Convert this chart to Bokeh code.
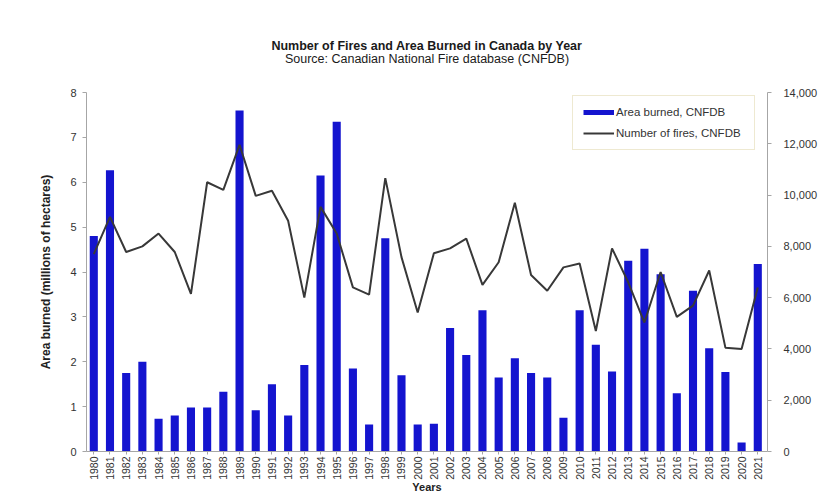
import math
from bokeh.plotting import figure
from bokeh.models import (Range1d, LinearAxis, FixedTicker, NumeralTickFormatter,
                          Legend, LegendItem, Title, ColumnDataSource)
from bokeh.embed import file_html
from bokeh.resources import INLINE

years = list(range(1980, 2022))
year_labels = [str(y) for y in years]
area_burned = [4.8, 6.27, 1.75, 2.0, 0.73, 0.8, 0.98, 0.98, 1.33, 7.6,
               0.92, 1.5, 0.8, 1.93, 6.15, 7.35, 1.85, 0.6, 4.75, 1.7,
               0.6, 0.62, 2.75, 2.15, 3.15, 1.65, 2.08, 1.75, 1.65, 0.75,
               3.15, 2.38, 1.78, 4.25, 4.52, 3.95, 1.3, 3.58, 2.3, 1.77,
               0.2, 4.18]
num_fires = [7700, 9150, 7780, 8000, 8500, 7780, 6150, 10500, 10200, 11960,
             9970, 10170, 9000, 6000, 9540, 8500, 6400, 6120, 10660, 7580,
             5420, 7730, 7920, 8300, 6500, 7380, 9700, 6880, 6270, 7180,
             7330, 4700, 7920, 6600, 5030, 7000, 5250, 5690, 7060, 4050,
             4000, 6400]
left_ticks = [0, 1, 2, 3, 4, 5, 6, 7, 8]
right_ticks = [0, 2000, 4000, 6000, 8000, 10000, 12000, 14000]

title_text = "Number of Fires and Area Burned in Canada by Year"
subtitle_text = "Source: Canadian National Fire database (CNFDB)"
bar_label = "Area burned, CNFDB"
line_label = "Number of fires, CNFDB"

FONT = "Liberation Sans"
BLUE = "#1414cf"
AXIS = "#a6a6a6"
TXT = "#333333"

src = ColumnDataSource(dict(year=years, area=area_burned, fires=num_fires))

p = figure(width=820, height=497, output_backend="svg", toolbar_location=None,
           title=None,
           x_range=Range1d(1979.55, 2021.6), y_range=Range1d(0, 8),
           min_border_left=86, min_border_right=47, min_border_top=92,
           min_border_bottom=46, background_fill_color="white",
           border_fill_color="white")
p.outline_line_color = None
p.xgrid.visible = False
p.ygrid.visible = False
p.extra_y_ranges = {"fires": Range1d(0, 14000)}

bars = p.vbar(x="year", top="area", width=0.5, source=src, fill_color=BLUE,
              line_color=None)
line = p.line(x="year", y="fires", source=src, y_range_name="fires",
              line_color="#383838", line_width=2)
# legend proxy for the bar swatch (thick short line like the original)
proxy = p.line(x=[float("nan")], y=[float("nan")], line_color=BLUE, line_width=5)

right_axis = LinearAxis(y_range_name="fires", ticker=FixedTicker(ticks=right_ticks),
                        formatter=NumeralTickFormatter(format="0,0"))
p.add_layout(right_axis, "right")

for ax in [p.xaxis[0], p.yaxis[0], right_axis]:
    ax.axis_line_color = AXIS
    ax.major_tick_line_color = AXIS
    ax.minor_tick_line_color = None
    ax.major_tick_in = 0
    ax.major_tick_out = 4
    ax.major_label_text_font = FONT
    ax.major_label_text_font_size = "11px"
    ax.major_label_text_color = TXT
    ax.axis_label_text_font = FONT
    ax.axis_label_text_font_size = "12px"
    ax.axis_label_text_font_style = "bold"
    ax.axis_label_text_color = "#222222"

p.yaxis[0].ticker = FixedTicker(ticks=left_ticks)
p.yaxis[0].major_label_standoff = 6
p.yaxis[0].axis_label = "Area burned (millions of hectares)"
p.yaxis[0].axis_label_standoff = 14
right_axis.major_label_standoff = 12

xa = p.xaxis[0]
xa.ticker = FixedTicker(ticks=years)
xa.major_label_overrides = {y: s for y, s in zip(years, year_labels)}
xa.major_label_orientation = math.pi / 2
xa.major_label_text_font_size = "10.5px"
xa.major_tick_out = 3
xa.major_label_standoff = 2
xa.axis_label = "Years"
xa.axis_label_text_font_size = "11px"
xa.axis_label_standoff = -2

legend = Legend(items=[LegendItem(label=bar_label, renderers=[proxy]),
                       LegendItem(label=line_label, renderers=[line])],
                location=(486, 301), margin=0, padding=10, spacing=9,
                glyph_width=31, glyph_height=12, label_height=12,
                label_standoff=2, label_width=128,
                label_text_font=FONT, label_text_font_size="11.5px",
                label_text_color=TXT, border_line_color="#ddd4a4",
                border_line_width=1.5, background_fill_color="white",
                background_fill_alpha=1.0)
p.add_layout(legend)

# spacer nearest the frame, then subtitle, then title (stacked outward)
p.add_layout(Title(text=" ", text_font=FONT, text_font_size="10px",
                   standoff=14), "above")
p.add_layout(Title(text=subtitle_text, align="center", text_font=FONT,
                   text_font_size="12.5px", text_font_style="normal",
                   text_color="#1a1a1a", standoff=0), "above")
p.add_layout(Title(text=title_text, align="center", text_font=FONT,
                   text_font_size="12.5px", text_font_style="bold",
                   text_color="#1a1a1a", standoff=-7), "above")

open("out.html", "w").write(file_html(p, INLINE))
